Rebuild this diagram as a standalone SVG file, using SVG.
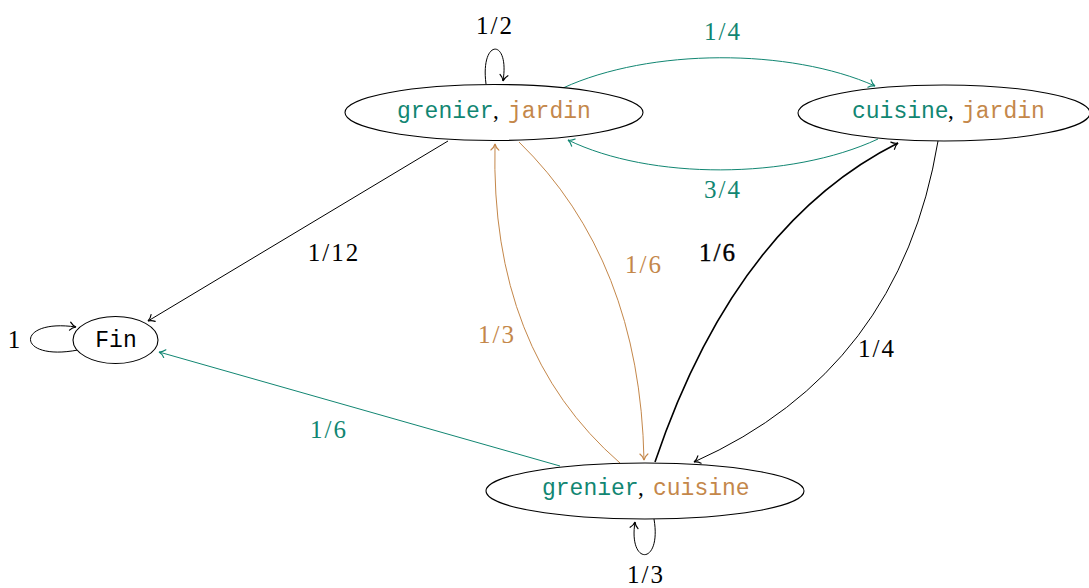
<svg xmlns="http://www.w3.org/2000/svg" width="1089" height="588" viewBox="0 0 1089 588">
<style>
.node{fill:#fff;stroke:#000;stroke-width:1.1}
.tt{font-family:"Liberation Mono","DejaVu Sans Mono",monospace;font-size:23px}
.sep{font-family:"Liberation Serif",serif;font-size:23px;fill:#000}
.teal{fill:#118672}
.orange{fill:#c4874a}
.lbl{font-family:"Liberation Serif","DejaVu Serif",serif;font-size:25px;text-anchor:middle;letter-spacing:2px}
.e{fill:none;stroke-width:1}
.ek{stroke:#000}
.et{stroke:#118672}
.eo{stroke:#c4874a}
</style>
<defs>
<marker id="ak" markerUnits="userSpaceOnUse" orient="auto" viewBox="-8 -6 10 12" refX="0" refY="0" markerWidth="10" markerHeight="12" overflow="visible">
<path d="M-6,-4 C-4,-1.5 -1.2,-0.3 0,0 C-1.2,0.3 -4,1.5 -6,4" fill="none" stroke="#000" stroke-width="1.2" stroke-linecap="round"/>
</marker>
<marker id="at" markerUnits="userSpaceOnUse" orient="auto" viewBox="-8 -6 10 12" refX="0" refY="0" markerWidth="10" markerHeight="12" overflow="visible">
<path d="M-6,-4 C-4,-1.5 -1.2,-0.3 0,0 C-1.2,0.3 -4,1.5 -6,4" fill="none" stroke="#118672" stroke-width="1.2" stroke-linecap="round"/>
</marker>
<marker id="ao" markerUnits="userSpaceOnUse" orient="auto" viewBox="-8 -6 10 12" refX="0" refY="0" markerWidth="10" markerHeight="12" overflow="visible">
<path d="M-6,-4 C-4,-1.5 -1.2,-0.3 0,0 C-1.2,0.3 -4,1.5 -6,4" fill="none" stroke="#c4874a" stroke-width="1.2" stroke-linecap="round"/>
</marker>
</defs>

<g id="connectors">
<path class="e ek" d="M486,84 C480,38 510,38 503,81" marker-end="url(#ak)"/>
<path class="e et" d="M563,88 C650,48 790,48 875,86" marker-end="url(#at)"/>
<path class="e et" d="M878,139 C790,180 650,180 568,140" marker-end="url(#at)"/>
<path class="e ek" d="M448,141 L148,321" marker-end="url(#ak)"/>
<path class="e ek" d="M78,350 C15,362 15,318 76,327" marker-end="url(#ak)"/>
<path class="e et" d="M560,466 L159,352" marker-end="url(#at)"/>
<path class="e eo" d="M620,463 Q490,350 495,144" marker-end="url(#ao)"/>
<path class="e eo" d="M519,142 Q640,260 644,460" marker-end="url(#ao)"/>
<path class="e ek" style="stroke-width:1.6" d="M655,462 Q735,225 898,143" marker-end="url(#ak)"/>
<path class="e ek" d="M938,141 Q900,370 694,462" marker-end="url(#ak)"/>
<path class="e ek" d="M654,519 C662,566 628,566 635,522" marker-end="url(#ak)"/>

<text class="lbl" x="495" y="34">1/2</text>
<text class="lbl teal" x="723" y="40">1/4</text>
<text class="lbl teal" x="723" y="198">3/4</text>
<text class="lbl" x="334" y="261">1/12</text>
<text class="lbl" x="15" y="348">1</text>
<text class="lbl teal" x="329" y="438">1/6</text>
<text class="lbl orange" x="497" y="343">1/3</text>
<text class="lbl orange" x="644" y="273">1/6</text>
<text class="lbl" x="718" y="261" style="stroke:#000;stroke-width:0.4">1/6</text>
<text class="lbl" x="877" y="357">1/4</text>
<text class="lbl" x="646" y="583">1/3</text>
</g>

<g id="node-grenier-jardin">
<ellipse class="node" cx="494" cy="112.5" rx="149" ry="28"/>
<text y="118"><tspan class="tt teal" x="397">grenier</tspan><tspan class="sep" x="493">,</tspan><tspan class="tt orange" x="508">jardin</tspan></text>
</g>

<g id="node-cuisine-jardin">
<ellipse class="node" cx="944" cy="113" rx="146" ry="28"/>
<text y="118"><tspan class="tt teal" x="852">cuisine</tspan><tspan class="sep" x="948">,</tspan><tspan class="tt orange" x="962">jardin</tspan></text>
</g>

<g id="node-fin">
<ellipse class="node" cx="115.5" cy="340" rx="42.5" ry="23.5"/>
<text class="tt" x="116" y="347" text-anchor="middle">Fin</text>
</g>

<g id="node-grenier-cuisine">
<ellipse class="node" cx="645" cy="491" rx="159" ry="28"/>
<text y="495"><tspan class="tt teal" x="542">grenier</tspan><tspan class="sep" x="638">,</tspan><tspan class="tt orange" x="653">cuisine</tspan></text>
</g>
</svg>
